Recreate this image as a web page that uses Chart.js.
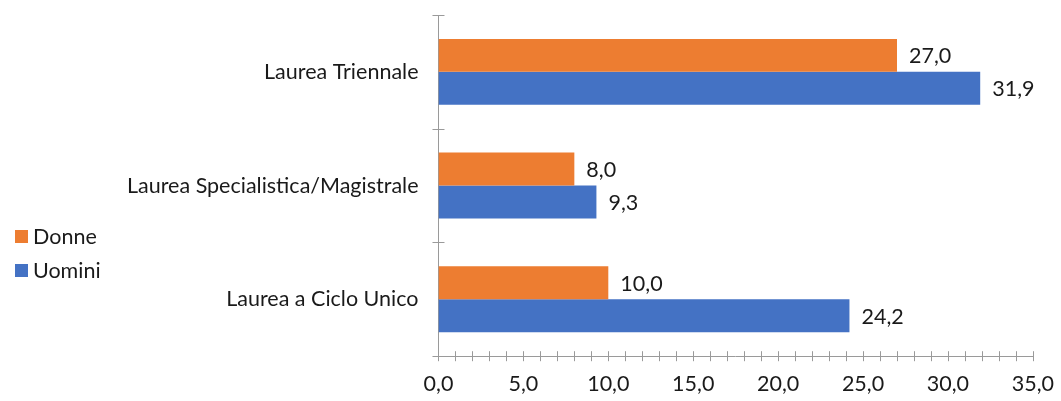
<!DOCTYPE html>
<html>
<head>
<meta charset="utf-8">
<script src="https://cdn.jsdelivr.net/npm/chart.js@4"></script>
<style>
  html, body { margin: 0; padding: 0; background: #fff; }
  #wrap { width: 1061px; height: 401px; position: relative; }
</style>
</head>
<body>
<div id="wrap"><canvas id="chart"></canvas></div>
<script>
// dati
const categories = ["Laurea Triennale", "Laurea Specialistica/Magistrale", "Laurea a Ciclo Unico"];
const donne = [27.0, 8.0, 10.0];
const uomini = [31.9, 9.3, 24.2];
const seriesNames = ["Donne", "Uomini"];
const xMax = 35;

const ORANGE = "#ED7D31";
const BLUE = "#4472C4";
const AXIS = "#9a9a9a";
const TEXT = "#1a1a1a";
const FONT = "Lato, 'Open Sans', sans-serif";
const FSIZE = 21.5;

const fmt = v => v.toFixed(1).replace(".", ",");

// tacche che attraversano gli assi
const crossTicks = {
    id: "crossTicks",
    afterDraw(chart) {
        const ctx = chart.ctx;
        const x = chart.scales.x;
        const y = chart.scales.y;
        ctx.save();
        ctx.strokeStyle = AXIS;
        ctx.lineWidth = 1;
        ctx.beginPath();
        for (let v = 0; v <= xMax; v++) {
            const px = Math.round(x.getPixelForValue(v)) + 0.5;
            ctx.moveTo(px, y.bottom - 5);
            ctx.lineTo(px, y.bottom + 5);
        }
        for (let i = 0; i <= categories.length; i++) {
            const py = Math.round(y.getPixelForValue(i - 0.5)) + 0.5;
            ctx.moveTo(x.left - 6, py);
            ctx.lineTo(x.left + 6, py);
        }
        ctx.stroke();
        ctx.restore();
    }
};

// etichette dei valori
const valueLabels = {
    id: "valueLabels",
    afterDatasetsDraw(chart) {
        const ctx = chart.ctx;
        ctx.save();
        ctx.font = FSIZE + "px " + FONT;
        ctx.fillStyle = TEXT;
        ctx.textAlign = "left";
        ctx.textBaseline = "middle";
        chart.data.datasets.forEach((ds, di) => {
            chart.getDatasetMeta(di).data.forEach((bar, i) => {
                ctx.fillText(fmt(ds.data[i]), bar.x + 12, bar.y + 1);
            });
        });
        ctx.restore();
    }
};

// legenda a sinistra, disegnata a mano
const sideLegend = {
    id: "sideLegend",
    afterDraw(chart) {
        const ctx = chart.ctx;
        ctx.save();
        ctx.font = FSIZE + "px " + FONT;
        ctx.textBaseline = "middle";
        ctx.textAlign = "left";
        chart.data.datasets.forEach((ds, i) => {
            const cy = 236 + i * 34;
            ctx.fillStyle = ds.backgroundColor;
            ctx.fillRect(15, cy - 6, 13, 13);
            ctx.fillStyle = TEXT;
            ctx.fillText(ds.label, 33, cy + 1);
        });
        ctx.restore();
    }
};

new Chart(document.getElementById("chart"), {
    type: "bar",
    data: {
        labels: categories,
        datasets: [
            { label: seriesNames[0], data: donne, backgroundColor: ORANGE },
            { label: seriesNames[1], data: uomini, backgroundColor: BLUE }
        ]
    },
    options: {
        indexAxis: "y",
        responsive: true,
        maintainAspectRatio: false,
        animation: false,
        datasets: { bar: { categoryPercentage: 0.58, barPercentage: 1.0 } },
        layout: { padding: { top: 15, right: 4, bottom: -3, left: 127 } },
        plugins: {
            legend: { display: false },
            tooltip: { enabled: false }
        },
        scales: {
            x: {
                min: 0,
                max: xMax,
                grid: { display: false },
                border: { display: true, color: AXIS },
                ticks: {
                    stepSize: 1,
                    autoSkip: false,
                    maxRotation: 0,
                    padding: 7,
                    color: TEXT,
                    font: { family: FONT, size: FSIZE },
                    callback: v => (v % 5 === 0 ? fmt(v) : "")
                }
            },
            y: {
                grid: {
                    display: true,
                    drawOnChartArea: false,
                    drawTicks: true,
                    tickLength: 20,
                    color: "rgba(0,0,0,0)"
                },
                border: { display: true, color: AXIS },
                ticks: {
                    padding: 0,
                    color: TEXT,
                    font: { family: FONT, size: FSIZE }
                }
            }
        }
    },
    plugins: [crossTicks, valueLabels, sideLegend]
});
</script>
</body>
</html>
